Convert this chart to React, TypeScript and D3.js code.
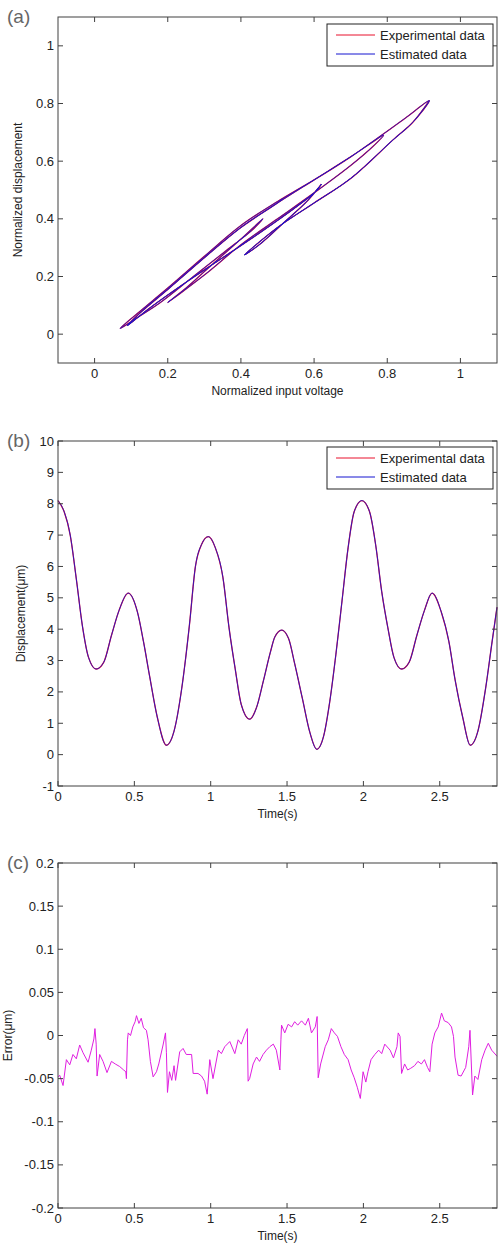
import React from "react";
import * as d3 from "d3";

// ---- panel (a): hysteresis, normalized input voltage vs normalized displacement
// points follow the trajectory in time order (turning points included)
const aVoltage = [
  0.915, 0.87, 0.815, 0.7, 0.6, 0.5, 0.41,
  0.45, 0.52, 0.58, 0.62,
  0.6, 0.55, 0.45, 0.35, 0.25, 0.15, 0.09,
  0.13, 0.2, 0.3, 0.4, 0.5, 0.6, 0.7, 0.79,
  0.76, 0.7, 0.6, 0.5, 0.4, 0.3, 0.2,
  0.25, 0.32, 0.4, 0.46,
  0.43, 0.36, 0.27, 0.18, 0.12, 0.07,
  0.12, 0.2, 0.3, 0.4, 0.5, 0.6, 0.7, 0.79, 0.85, 0.915,
  0.87, 0.815, 0.7, 0.6, 0.5, 0.41,
  0.45, 0.52, 0.58, 0.62,
  0.6, 0.55, 0.45, 0.35, 0.25, 0.15, 0.09,
  0.13, 0.2, 0.3, 0.4, 0.5, 0.515,
];
const aDisp = [
  0.81, 0.735, 0.673, 0.54, 0.455, 0.37, 0.275,
  0.31, 0.39, 0.46, 0.52,
  0.49, 0.44, 0.35, 0.265, 0.18, 0.09, 0.03,
  0.08, 0.155, 0.265, 0.37, 0.455, 0.535, 0.615, 0.69,
  0.65, 0.585, 0.49, 0.4, 0.31, 0.205, 0.11,
  0.16, 0.24, 0.33, 0.4,
  0.36, 0.29, 0.2, 0.11, 0.06, 0.02,
  0.075, 0.16, 0.27, 0.377, 0.46, 0.535, 0.615, 0.695, 0.75, 0.81,
  0.735, 0.673, 0.54, 0.455, 0.37, 0.275,
  0.31, 0.39, 0.46, 0.52,
  0.49, 0.44, 0.35, 0.265, 0.18, 0.09, 0.03,
  0.08, 0.155, 0.265, 0.37, 0.455, 0.47,
];
const aTicks = [0, 0.2, 0.4, 0.6, 0.8, 1];
const aTickLabels = ["0", "0.2", "0.4", "0.6", "0.8", "1"];

// ---- panel (b): displacement over time (um)
const bTime = [
  0, 0.04, 0.08, 0.12, 0.16, 0.2, 0.25, 0.3, 0.35, 0.4, 0.46, 0.52, 0.56, 0.6,
  0.65, 0.71, 0.76, 0.81, 0.86, 0.9, 0.94, 0.985, 1.03, 1.08, 1.12, 1.16, 1.2,
  1.255, 1.3, 1.345, 1.39, 1.42, 1.465, 1.51, 1.55, 1.6, 1.65, 1.695, 1.74,
  1.78, 1.82, 1.86, 1.9, 1.94, 1.99, 2.04, 2.08, 2.12, 2.16, 2.2, 2.25, 2.3,
  2.35, 2.4, 2.45, 2.51, 2.56, 2.6, 2.65, 2.7, 2.75, 2.8, 2.84, 2.875,
];
const bDisp = [
  8.1, 7.75, 7.0, 5.6, 4.1, 3.1, 2.73, 2.95, 3.8, 4.6, 5.15, 4.55, 3.6, 2.5,
  1.2, 0.3, 0.75, 2.1, 4.1, 6.0, 6.7, 6.95, 6.6, 5.65, 4.05, 2.75, 1.6, 1.13,
  1.5, 2.35, 3.25, 3.75, 3.97, 3.7, 2.9, 1.8, 0.7, 0.17, 0.6, 1.7, 3.2, 4.9,
  6.6, 7.75, 8.1, 7.75, 6.7, 5.2, 4.05, 3.1, 2.73, 2.95, 3.8, 4.6, 5.15, 4.55,
  3.6, 2.4, 1.2, 0.3, 0.75, 2.1, 3.5, 4.7,
];
const bXTicks = [0, 0.5, 1, 1.5, 2, 2.5];
const bXTickLabels = ["0", "0.5", "1", "1.5", "2", "2.5"];
const bYTicks = [-1, 0, 1, 2, 3, 4, 5, 6, 7, 8, 9, 10];

// ---- panel (c): estimation error (um)
const cTime = [
  0, 0.011, 0.033, 0.055, 0.077, 0.098, 0.12, 0.142, 0.164, 0.197, 0.218,
  0.235, 0.242, 0.25, 0.256, 0.273, 0.295, 0.321, 0.35, 0.375, 0.404, 0.43,
  0.444, 0.448, 0.455, 0.46, 0.475, 0.49, 0.505, 0.514, 0.53, 0.545, 0.56,
  0.579, 0.59, 0.605, 0.623, 0.645, 0.66, 0.688, 0.704, 0.71, 0.717, 0.73,
  0.745, 0.76, 0.77, 0.797, 0.819, 0.84, 0.875, 0.885, 0.917, 0.94, 0.96,
  0.977, 0.994, 1.015, 1.05, 1.07, 1.092, 1.125, 1.158, 1.18, 1.2, 1.22, 1.24,
  1.245, 1.255, 1.278, 1.3, 1.32, 1.343, 1.365, 1.387, 1.41, 1.43, 1.453,
  1.46, 1.464, 1.485, 1.507, 1.53, 1.55, 1.57, 1.595, 1.62, 1.64, 1.66, 1.685,
  1.697, 1.704, 1.72, 1.75, 1.77, 1.79, 1.81, 1.83, 1.853, 1.875, 1.9, 1.92,
  1.94, 1.96, 1.98, 1.998, 2.016, 2.03, 2.05, 2.075, 2.1, 2.12, 2.14, 2.175,
  2.197, 2.22, 2.228, 2.24, 2.25, 2.27, 2.29, 2.31, 2.335, 2.357, 2.38, 2.4,
  2.42, 2.435, 2.45, 2.468, 2.49, 2.512, 2.53, 2.555, 2.577, 2.59, 2.6, 2.62,
  2.64, 2.67, 2.69, 2.698, 2.715, 2.73, 2.75, 2.775, 2.797, 2.818, 2.84, 2.875,
];
const cError = [
  -0.048, -0.046, -0.058, -0.028, -0.034, -0.022, -0.027, -0.011, -0.02,
  -0.031, -0.017, -0.004, 0.008, -0.01, -0.047, -0.022, -0.03, -0.043, -0.03,
  -0.033, -0.036, -0.04, -0.042, -0.05, -0.005, 0.003, 0.0, 0.01, 0.016, 0.023,
  0.014, 0.02, 0.009, 0.006, -0.005, -0.03, -0.048, -0.042, -0.033, -0.011,
  0.003, -0.02, -0.066, -0.042, -0.052, -0.035, -0.052, -0.019, -0.015,
  -0.022, -0.022, -0.044, -0.044, -0.047, -0.053, -0.068, -0.028, -0.05,
  -0.017, -0.021, -0.013, -0.007, -0.021, -0.005, -0.01, 0.0, 0.008, -0.053,
  -0.05, -0.033, -0.025, -0.03, -0.022, -0.017, -0.013, -0.01, -0.017, -0.04,
  -0.005, 0.012, 0.003, 0.013, 0.01, 0.016, 0.012, 0.017, 0.012, 0.02, 0.003,
  0.01, 0.022, -0.049, -0.033, -0.013, -0.005, 0.008, 0.003, -0.001, -0.013,
  -0.022, -0.028, -0.04, -0.049, -0.06, -0.073, -0.042, -0.054, -0.042,
  -0.028, -0.022, -0.017, -0.021, -0.01, -0.017, -0.026, -0.013, 0.003,
  -0.001, -0.044, -0.033, -0.04, -0.038, -0.035, -0.03, -0.033, -0.028,
  -0.037, -0.042, -0.01, 0.003, 0.01, 0.026, 0.017, 0.015, 0.01, -0.001,
  -0.025, -0.046, -0.047, -0.037, -0.013, 0.006, -0.069, -0.047, -0.051,
  -0.028, -0.017, -0.009, -0.017, -0.024,
];
const cYTicks = [-0.2, -0.15, -0.1, -0.05, 0, 0.05, 0.1, 0.15, 0.2];
const cYTickLabels = ["-0.2", "-0.15", "-0.1", "-0.05", "0", "0.05", "0.1", "0.15", "0.2"];

const legendItems = ["Experimental data", "Estimated data"];

const RED = "#e8102c";
const BLUE = "#1414d0";
const MAGENTA = "#e01ee0";
const AXIS = "#404040";
const FONT = "'Liberation Sans', Arial, sans-serif";

const LEFT = 58,
  RIGHT = 497,
  TICK = 5;

function Frame({ x, y, xTicks, xLabels, yTicks, yLabels, xTitle, yTitle, yTitleX, tag }) {
  const [x0, x1] = x.range();
  const [y0, y1] = y.range(); // y0 = bottom, y1 = top
  return (
    <g fontFamily={FONT}>
      <rect x={x0} y={y1} width={x1 - x0} height={y0 - y1} fill="none" stroke={AXIS} strokeWidth={1} />
      {xTicks.map((t, i) => (
        <g key={"xt" + i}>
          <line x1={x(t)} x2={x(t)} y1={y0} y2={y0 - TICK} stroke={AXIS} />
          <line x1={x(t)} x2={x(t)} y1={y1} y2={y1 + TICK} stroke={AXIS} />
          <text x={x(t)} y={y0 + 15} textAnchor="middle" fontSize={13} fill="#222">
            {xLabels[i]}
          </text>
        </g>
      ))}
      {yTicks.map((t, i) => (
        <g key={"yt" + i}>
          <line x1={x0} x2={x0 + TICK} y1={y(t)} y2={y(t)} stroke={AXIS} />
          <line x1={x1} x2={x1 - TICK} y1={y(t)} y2={y(t)} stroke={AXIS} />
          <text x={x0 - 4} y={y(t) + 4.5} textAnchor="end" fontSize={13} fill="#222">
            {yLabels[i]}
          </text>
        </g>
      ))}
      <text x={(x0 + x1) / 2} y={y0 + 32} textAnchor="middle" fontSize={12} fill="#222">
        {xTitle}
      </text>
      <text
        transform={`translate(${yTitleX},${(y0 + y1) / 2}) rotate(-90)`}
        textAnchor="middle"
        fontSize={12}
        fill="#222"
      >
        {yTitle}
      </text>
      <text x={7} y={y1 + 6} fontSize={19} fill="#666">
        {tag}
      </text>
    </g>
  );
}

function Legend({ x, y }) {
  return (
    <g fontFamily={FONT}>
      <rect x={x} y={y} width={166} height={42} fill="#fff" stroke="#222" strokeWidth={1} />
      {legendItems.map((name, i) => (
        <g key={name}>
          <line
            x1={x + 9}
            x2={x + 48}
            y1={y + 11 + i * 19}
            y2={y + 11 + i * 19}
            stroke={i === 0 ? RED : BLUE}
            strokeWidth={1}
          />
          <text x={x + 53} y={y + 15.5 + i * 19} fontSize={13} fill="#222">
            {name}
          </text>
        </g>
      ))}
    </g>
  );
}

export default function App() {
  // panel a
  const ax = d3.scaleLinear().domain([-0.1, 1.1]).range([LEFT, RIGHT]);
  const ay = d3.scaleLinear().domain([-0.1, 1.1]).range([363, 17]);
  const aPts = aVoltage.map((v, i) => [v, aDisp[i]]);
  const aLine = d3
    .line()
    .x((d) => ax(d[0]))
    .y((d) => ay(d[1]))
    .curve(d3.curveCatmullRom.alpha(0.5));

  // panel b
  const bx = d3.scaleLinear().domain([0, 2.875]).range([LEFT, RIGHT]);
  const by = d3.scaleLinear().domain([-1, 10]).range([786, 441]);
  const bPts = bTime.map((t, i) => [t, bDisp[i]]);
  const bLine = d3
    .line()
    .x((d) => bx(d[0]))
    .y((d) => by(d[1]))
    .curve(d3.curveMonotoneX);

  // panel c
  const cx = d3.scaleLinear().domain([0, 2.875]).range([LEFT, RIGHT]);
  const cy = d3.scaleLinear().domain([-0.2, 0.2]).range([1208, 863]);
  const cPts = cTime.map((t, i) => [t, cError[i]]);
  const cLine = d3
    .line()
    .x((d) => cx(d[0]))
    .y((d) => cy(d[1]));

  return (
    <div style={{ position: "absolute", left: 0, top: 0 }}>
      <svg width={498} height={1247} style={{ display: "block", background: "#fff" }}>
        {/* (a) */}
        <path d={aLine(aPts)} fill="none" stroke={RED} strokeWidth={1.3} />
        <path d={aLine(aPts)} fill="none" stroke={BLUE} strokeWidth={1} opacity={0.85} />
        <Frame
          x={ax}
          y={ay}
          xTicks={aTicks}
          xLabels={aTickLabels}
          yTicks={aTicks}
          yLabels={aTickLabels}
          xTitle="Normalized input voltage"
          yTitle="Normalized displacement"
          yTitleX={22}
          tag="(a)"
        />
        <Legend x={327} y={24} />

        {/* (b) */}
        <path d={bLine(bPts)} fill="none" stroke={RED} strokeWidth={1.3} />
        <path d={bLine(bPts)} fill="none" stroke={BLUE} strokeWidth={1} opacity={0.85} />
        <Frame
          x={bx}
          y={by}
          xTicks={bXTicks}
          xLabels={bXTickLabels}
          yTicks={bYTicks}
          yLabels={bYTicks.map(String)}
          xTitle="Time(s)"
          yTitle="Displacement(μm)"
          yTitleX={25}
          tag="(b)"
        />
        <Legend x={327} y={447} />

        {/* (c) */}
        <path d={cLine(cPts)} fill="none" stroke={MAGENTA} strokeWidth={1} />
        <Frame
          x={cx}
          y={cy}
          xTicks={bXTicks}
          xLabels={bXTickLabels}
          yTicks={cYTicks}
          yLabels={cYTickLabels}
          xTitle="Time(s)"
          yTitle="Error(μm)"
          yTitleX={12}
          tag="(c)"
        />
      </svg>
    </div>
  );
}
